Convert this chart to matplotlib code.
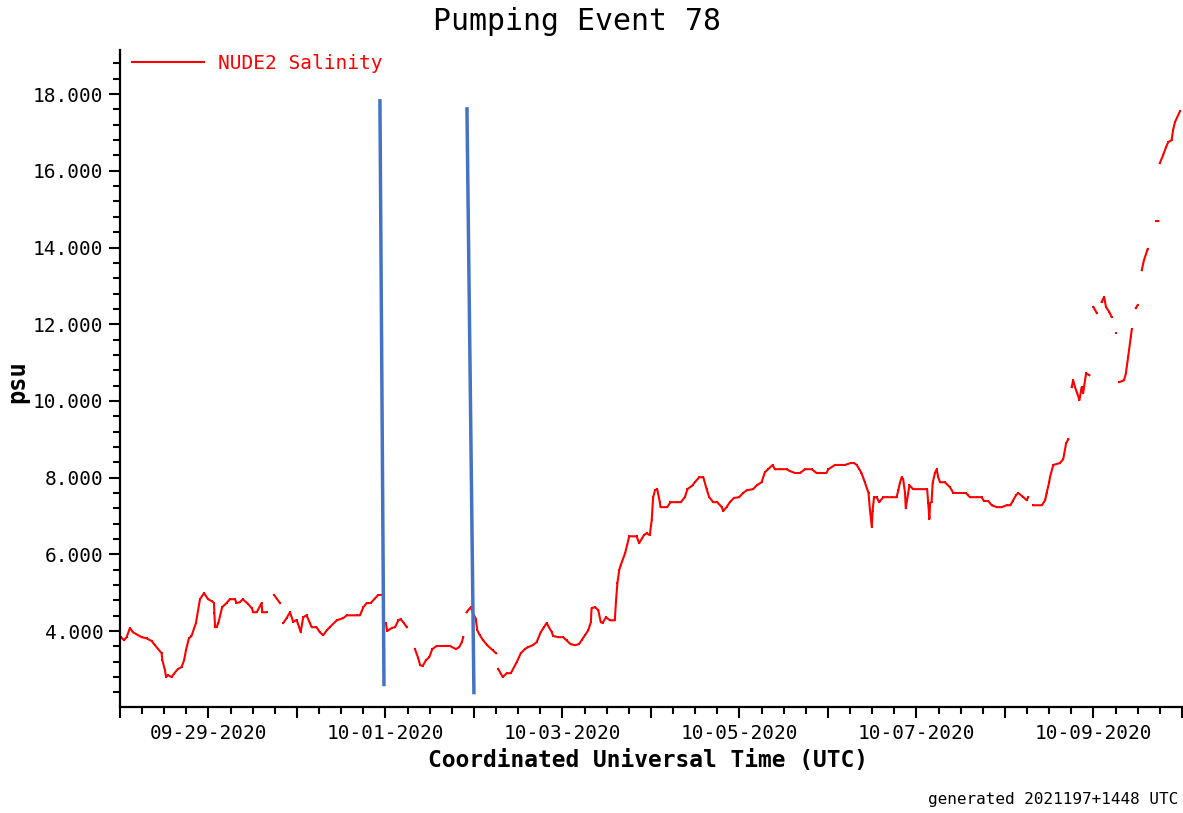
import numpy as np
import pandas as pd
import matplotlib
matplotlib.use("Agg")
import matplotlib.pyplot as plt
import matplotlib.dates as mdates
from matplotlib.ticker import MultipleLocator, FormatStrFormatter, FuncFormatter

plt.rcParams['font.family'] = ['DejaVu Sans Mono']

start = pd.Timestamp('2020-09-28 00:00')
end = pd.Timestamp('2020-10-10 00:00')

# hours since 09-28 00:00 UTC; None in psu marks a break in the record
hrs = [0.2, 1.1, 1.8, 2.7, 3.5, 5.9, 7.2, 8.6, 9.5, 11.3, 11.5, 12.2, 12.5, 13.0, 14.0, 14.6,
       15.7, 16.7, 17.4, 17.9, 18.7, 19.4, 20.6, 21.7, 22.8, 23.9, 24.9, 25.5, 25.6, 25.8,
       26.2, 26.7, 27.7, 28.9, 29.8, 31.2, 31.6, 32.5, 33.3, 34.8, 35.7, 36.2, 37.1, 38.4,
       38.6, 39.8, 39.8, 41.8, 43.4, 43.4, 44.3, 45.2, 46.1, 47.0, 47.9, 48.6, 49.0, 49.7,
       50.6, 51.5, 52.0, 53.3, 54.2, 55.1, 56.1, 56.9, 58.8, 60.6, 61.5, 64.2, 65.1, 66.0,
       66.9, 68.0, 70.0, 71.0, 71.0, 72.1, 72.5, 73.7, 74.6, 75.5, 76.1, 77.0, 77.8, 77.8,
       80.0, 80.9, 81.4, 82.1, 83.0, 83.9, 84.7, 85.9, 87.7, 89.5, 91.1, 92.0, 92.7, 93.1,
       93.1, 94.0, 95.1, 96.5, 96.9, 97.6, 98.5, 99.6, 101.1, 102.0, 102.0, 102.6, 103.8,
       104.9, 106.0, 107.6, 108.7, 109.8, 110.7, 111.9, 113.0, 114.1, 115.0, 115.7, 117.1,
       117.5, 118.9, 120.2, 121.1, 122.2, 123.4, 124.5, 125.2, 126.1, 127.0, 127.7, 127.9,
       128.8, 129.7, 130.4, 130.9, 131.8, 132.9, 134.2, 134.5, 134.9, 135.4, 135.8, 137.0,
       138.1, 140.1, 140.8, 142.1, 142.8, 143.7, 144.2, 144.6, 145.1, 145.7, 146.4, 146.6,
       148.4, 149.3, 151.0, 152.1, 153.2, 153.9, 155.3, 155.9, 157.1, 158.2, 159.1, 159.8,
       160.9, 162.0, 163.2, 163.6, 164.5, 165.4, 166.5, 167.9, 169.0, 170.0, 171.7, 172.7,
       174.0, 174.9, 175.8, 177.0, 177.6, 179.0, 180.8, 181.7, 183.1, 184.4, 185.8, 187.6,
       188.9, 190.3, 191.6, 192.1, 193.9, 196.6, 198.2, 199.1, 199.8, 200.5, 201.1, 202.0,
       203.0, 203.4, 203.9, 204.1, 204.5, 205.2, 205.9, 207.0, 207.9, 209.3, 210.6, 211.1,
       211.5, 212.0, 212.4, 212.9, 213.1, 214.1, 215.1, 218.9, 219.2, 219.5, 219.7, 220.1,
       220.4, 221.0, 221.5, 221.9, 222.4, 223.7, 225.1, 226.0, 227.8, 229.4, 230.0, 230.5,
       232.3, 233.7, 234.3, 235.5, 236.4, 237.8, 239.1, 240.5, 241.5, 242.1, 243.0, 243.6,
       245.0, 245.9, 246.3, 246.3, 247.7, 250.0, 250.9, 251.3, 252.0, 252.2, 253.1, 254.9,
       255.8, 256.6, 257.2, 257.2, 258.1, 258.5, 259.0, 259.6, 260.2, 260.8, 261.2, 262.0,
       262.9, 262.9, 264.0, 264.9, 264.9, 266.2, 266.9, 267.4, 268.3, 268.9, 268.9, 270.0,
       270.0, 271.0, 272.3, 272.8, 273.4, 274.1, 274.4, 274.4, 275.5, 276.0, 276.0, 277.1,
       277.7, 278.7, 278.7, 281.0, 281.6, 281.6, 282.0, 282.9, 283.7, 284.3, 285.2, 285.6,
       286.1, 287.5]

psu = [3.85, 3.76, 3.84, 4.08, 3.97, 3.84, 3.81, 3.74, 3.63, 3.42, 3.24, 2.98, 2.80, 2.85, 2.80, 2.88,
       3.01, 3.06, 3.24, 3.50, 3.81, 3.87, 4.21, 4.83, 4.99, 4.83, 4.78, 4.73, 4.47, 4.10,
       4.10, 4.21, 4.62, 4.73, 4.83, 4.83, 4.73, 4.75, 4.83, 4.70, 4.60, 4.49, 4.49, 4.73,
       4.49, 4.49, None, 4.94, 4.73, None, 4.21, 4.34, 4.49, 4.24, 4.29, 4.10, 3.97, 4.36,
       4.41, 4.21, 4.10, 4.10, 3.97, 3.89, 4.02, 4.10, 4.28, 4.34, 4.41, 4.41, 4.41, 4.62,
       4.73, 4.73, 4.94, 4.94, None, 4.21, 4.00, 4.08, 4.10, 4.28, 4.31, 4.21, 4.10, None,
       3.53, 3.29, 3.11, 3.09, 3.24, 3.32, 3.53, 3.61, 3.61, 3.61, 3.53, 3.58, 3.71, 3.84,
       None, 4.49, 4.62, 4.31, 4.02, 3.89, 3.76, 3.63, 3.50, 3.42, None, 3.01, 2.80,
       2.90, 2.90, 3.19, 3.42, 3.53, 3.58, 3.63, 3.71, 3.97, 4.10, 4.21, 3.97,
       3.87, 3.84, 3.84, 3.76, 3.66, 3.63, 3.66, 3.76, 3.89, 4.02, 4.23, 4.60,
       4.62, 4.55, 4.23, 4.21, 4.36, 4.28, 4.28, 4.75, 5.25, 5.59, 5.72, 6.03,
       6.47, 6.47, 6.29, 6.50, 6.55, 6.50, 6.89, 7.49, 7.67, 7.70, 7.36, 7.23,
       7.23, 7.36, 7.36, 7.36, 7.49, 7.70, 7.80, 7.88, 8.01, 8.01, 7.70, 7.49,
       7.36, 7.36, 7.23, 7.13, 7.23, 7.36, 7.47, 7.49, 7.60, 7.67, 7.70, 7.80,
       7.88, 8.14, 8.22, 8.33, 8.22, 8.22, 8.22, 8.17, 8.12, 8.12, 8.22, 8.22,
       8.12, 8.12, 8.12, 8.22, 8.33, 8.33, 8.38, 8.38, 8.33, 8.22, 8.12, 7.88,
       7.60, 7.15, 6.71, 7.13, 7.49, 7.49, 7.36, 7.49, 7.49, 7.49, 7.49, 7.67,
       7.86, 8.01, 7.96, 7.60, 7.20, 7.80, 7.70, 7.70, 7.34, 6.92, 7.34, 7.36,
       7.86, 8.12, 8.22, 8.01, 7.88, 7.88, 7.75, 7.60, 7.60, 7.60, 7.54, 7.49,
       7.49, 7.49, 7.39, 7.39, 7.28, 7.23, 7.23, 7.28, 7.28, 7.39, 7.54, 7.60,
       7.49, 7.41, 7.49, None, 7.28, 7.28, 7.41, 7.60, 7.88, 8.01, 8.33, 8.38,
       8.48, 8.90, 9.00, None, 10.36, 10.54, 10.36, 10.20, 10.02, 10.36, 10.20, 10.72,
       10.67, None, 12.45, 12.29, None, 12.58, 12.71, 12.45, 12.32, 12.19, None, 11.77,
       None, 10.49, 10.54, 10.72, 11.14, 11.66, 11.87, None, 12.42, 12.50, None, 13.41,
       13.67, 13.96, None, 14.69, 14.69, None, 16.20, 16.41, 16.62, 16.75, 16.80, 17.06,
       17.27, 17.56]

# hand-drawn event markers (hours since start, psu at top and bottom)
mark_hrs = [[70.5, 71.6], [94.1, 96.0]]
mark_psu = [[17.87, 2.56], [17.66, 2.35]]

t = start + pd.to_timedelta(np.array(hrs), unit='h')
v = np.array(psu, dtype=float)

fig = plt.figure(figsize=(11.83, 8.13), dpi=100)
ax = fig.add_axes([0.1014, 0.1304, 0.8977, 0.8081])

ax.plot(t, v, color='#ff0000', lw=1.5, marker='s', ms=2, mew=0, label='NUDE2 Salinity')

for mh, mp in zip(mark_hrs, mark_psu):
    mt = start + pd.to_timedelta(np.array(mh), unit='h')
    ax.plot(mt, mp, color='#4472c4', lw=2.5, solid_capstyle='butt')

ax.set_xlim(start, end)
ax.set_ylim(2.02, 19.15)

for s in ['top', 'right']:
    ax.spines[s].set_visible(False)
for s in ['left', 'bottom']:
    ax.spines[s].set_linewidth(1.6)

ax.yaxis.set_major_locator(MultipleLocator(2))
ax.yaxis.set_minor_locator(MultipleLocator(0.4))
ax.yaxis.set_major_formatter(FormatStrFormatter('%.3f'))

ax.xaxis.set_major_locator(mdates.DayLocator())
ax.xaxis.set_minor_locator(mdates.HourLocator(byhour=[6, 12, 18]))


def day_label(x, pos):
    d = mdates.num2date(x)
    return d.strftime('%m-%d-%Y') if d.day % 2 == 1 else ''


ax.xaxis.set_major_formatter(FuncFormatter(day_label))
ax.tick_params(which='major', length=8, width=1.5, labelsize=14, pad=4)
ax.tick_params(which='minor', length=5, width=1.5)

leg = ax.legend(loc='center left', bbox_to_anchor=(0.0113, 0.980), frameon=False,
                borderpad=0, borderaxespad=0, handlelength=3.7, handletextpad=0.7,
                fontsize=14, labelcolor='#ff0000')

fig.text(0.488, 0.974, 'Pumping Event 78', ha='center', va='center', fontsize=21.5)
fig.text(0.548, 0.064, 'Coordinated Universal Time (UTC)', ha='center', va='center',
         fontsize=16.5, fontweight='bold')
fig.text(0.015, 0.531, 'psu', ha='center', va='center', rotation=90,
         fontsize=17, fontweight='bold')
fig.text(0.996, 0.016, 'generated 2021197+1448 UTC', ha='right', va='center', fontsize=11.5)

fig.savefig('out.png', dpi=100)
